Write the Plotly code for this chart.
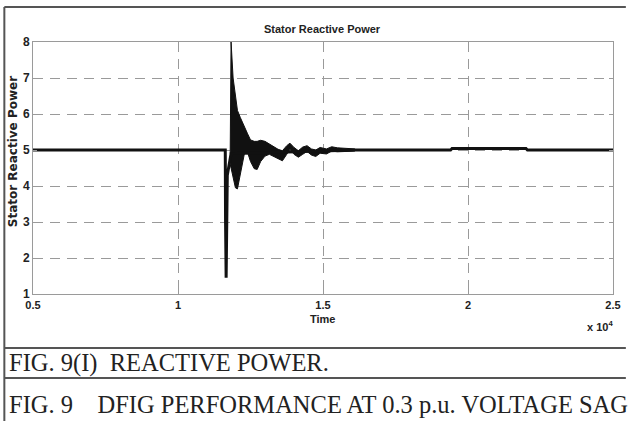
import plotly.graph_objects as go

# ---- data (time in units of 10^4) ----
line_t = [0.5, 1.163, 1.164, 1.166, 1.170, 1.175, 1.180, 1.183,
          1.61, 1.94, 1.945, 2.20, 2.205, 2.5]
line_v = [5.0, 5.0, 3.0, 1.45, 4.3, 4.5, 4.7, 4.9,
          5.0, 5.0, 5.04, 5.04, 5.0, 5.0]

band_t = [1.180, 1.183, 1.190, 1.198, 1.205, 1.215, 1.229, 1.240, 1.250, 1.263,
          1.273, 1.285, 1.300, 1.315, 1.330, 1.345, 1.360, 1.375, 1.386, 1.400,
          1.415, 1.430, 1.445, 1.460, 1.475, 1.490, 1.512, 1.530, 1.550, 1.580, 1.610]
band_hi = [4.9, 8.0, 7.0, 6.45, 6.1, 5.9, 5.62, 5.45, 5.28, 5.24,
           5.24, 5.27, 5.24, 5.17, 5.08, 5.02, 4.98, 5.12, 5.19, 5.07,
           4.98, 5.08, 5.12, 5.03, 5.0, 5.07, 5.03, 5.09, 5.06, 5.04, 5.03]
band_lo = [4.6, 4.5, 4.2, 3.95, 3.92, 4.3, 4.9, 4.93, 4.68, 4.48,
           4.46, 4.68, 4.83, 4.88, 4.83, 4.76, 4.7, 4.88, 5.02, 4.88,
           4.8, 4.88, 4.96, 4.86, 4.82, 4.91, 4.89, 4.97, 4.95, 4.96, 4.97]

x_ticks = [0.5, 1, 1.5, 2, 2.5]
x_tick_labels = ["0.5", "1", "1.5", "2", "2.5"]
y_ticks = [1, 2, 3, 4, 5, 6, 7, 8]

title_text = "Stator Reactive Power"
ylabel_text = "Stator Reactive Power"
xlabel_text = "Time"
caption1 = "FIG. 9(I)\u00a0\u00a0REACTIVE POWER."
caption2 = "FIG. 9\u00a0\u00a0\u00a0\u00a0DFIG PERFORMANCE AT 0.3 p.u. VOLTAGE SAG"

W, H = 633, 421
L, R, T, B = 33, 620, 42, 294  # plot area in pixels

def px(xp):
    return (xp - L) / (R - L)

def py(yp):
    return (B - yp) / (B - T)

sans = "Liberation Sans Narrow, Arial Narrow, Liberation Sans, Arial"
serif = "Liberation Serif, Times New Roman, serif"
grey = "#9a9a9a"

fig = go.Figure()
fig.add_trace(go.Scatter(
    x=band_t + band_t[::-1], y=band_hi + band_lo[::-1],
    fill="toself", fillcolor="#111", mode="lines",
    line=dict(color="#111", width=1), hoverinfo="skip", showlegend=False))
fig.add_trace(go.Scatter(
    x=line_t, y=line_v, mode="lines",
    line=dict(color="#111", width=3), showlegend=False))

fig.update_xaxes(
    range=[0.5, 2.5], tickvals=x_ticks,
    ticktext=["<b>%s</b>" % s for s in x_tick_labels],
    showgrid=True, gridcolor=grey, griddash="10px,7px", gridwidth=1,
    showline=True, linecolor=grey, linewidth=1, mirror="ticks",
    ticks="inside", ticklen=4, tickcolor=grey, ticklabelstandoff=1,
    tickfont=dict(family=sans, size=11, color="#222"), zeroline=False)
fig.update_yaxes(
    range=[1, 8], tickvals=y_ticks,
    ticktext=["<b>%d</b>" % v for v in y_ticks],
    showgrid=True, gridcolor=grey, griddash="10px,7px", gridwidth=1,
    showline=True, linecolor=grey, linewidth=1, mirror="ticks",
    ticks="inside", ticklen=4, tickcolor=grey,
    tickfont=dict(family=sans, size=12, color="#222"), zeroline=False)

line_col = "#555"
shapes = [
    dict(type="line", xref="paper", yref="paper",
         x0=px(4), x1=px(633), y0=py(7), y1=py(7), line=dict(color=line_col, width=2)),
    dict(type="line", xref="paper", yref="paper",
         x0=px(4), x1=px(4), y0=py(7), y1=py(421), line=dict(color=line_col, width=2)),
    dict(type="line", xref="paper", yref="paper",
         x0=px(4), x1=px(633), y0=py(348), y1=py(348), line=dict(color=line_col, width=2)),
    dict(type="line", xref="paper", yref="paper",
         x0=px(4), x1=px(633), y0=py(378), y1=py(378), line=dict(color=line_col, width=2)),
]

annotations = [
    dict(text="<b>" + title_text + "</b>", xref="paper", yref="paper",
         x=px(326), y=py(29), showarrow=False, xanchor="center", yanchor="middle",
         font=dict(family=sans, size=11, color="#222")),
    dict(text="<b>" + ylabel_text + "</b>", xref="paper", yref="paper",
         x=px(13), y=py(152), showarrow=False, xanchor="center", yanchor="middle",
         textangle=-90, font=dict(family="DejaVu Sans", size=12, color="#222")),
    dict(text="<b>" + xlabel_text + "</b>", xref="paper", yref="paper",
         x=px(326), y=py(319), showarrow=False, xanchor="center", yanchor="middle",
         font=dict(family=sans, size=11, color="#222")),
    dict(text="<b>x 10<sup>4</sup></b>", xref="paper", yref="paper",
         x=px(622), y=py(326), showarrow=False, xanchor="right", yanchor="middle",
         font=dict(family=sans, size=11, color="#222")),
    dict(text=caption1, xref="paper", yref="paper",
         x=px(7), y=py(363), showarrow=False, xanchor="left", yanchor="middle",
         font=dict(family=serif, size=24.5, color="#222")),
    dict(text=caption2, xref="paper", yref="paper",
         x=px(7), y=py(404), showarrow=False, xanchor="left", yanchor="middle",
         font=dict(family=serif, size=24.5, color="#222")),
]

fig.update_layout(
    width=W, height=H,
    margin=dict(l=L, r=W - R, t=T, b=H - B, pad=0),
    paper_bgcolor="white", plot_bgcolor="white",
    shapes=shapes, annotations=annotations, showlegend=False)

fig.write_html("out.html")
